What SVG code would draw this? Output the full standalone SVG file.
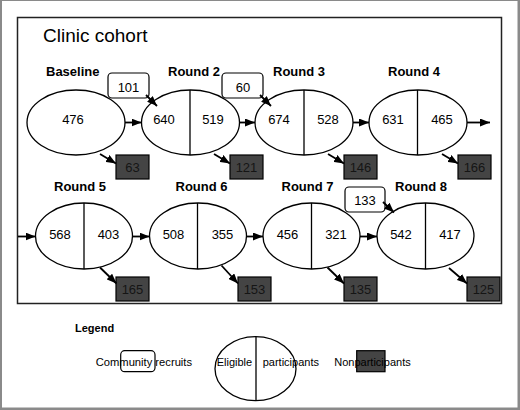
<svg xmlns="http://www.w3.org/2000/svg" width="520" height="410" viewBox="0 0 520 410">
<style>
text{font-family:"Liberation Sans",Arial,sans-serif;fill:#000}
.t{font-size:19px}
.lbl{font-size:13px;font-weight:bold}
.num{font-size:13px;text-anchor:middle}
.ell{fill:#fff;stroke:#000;stroke-width:1.3}
.div{stroke:#000;stroke-width:1.3}
.rec{fill:#fff;stroke:#000;stroke-width:1.2}
.np{fill:#444;stroke:#000;stroke-width:1.2}
.npt{font-size:13px;text-anchor:middle;fill:#151515}
.con line{stroke:#000;stroke-width:1.8;marker-end:url(#ah)}
.lg{font-size:11px}
</style>
<defs>
<marker id="ah" markerUnits="userSpaceOnUse" markerWidth="10" markerHeight="8" refX="10" refY="4" orient="auto">
<path d="M0,0 L10,4 L0,8 z" fill="#000"/>
</marker>
</defs>
<rect x="0" y="0" width="520" height="410" fill="#8a8a8a"/>
<rect x="2" y="1" width="515.5" height="406.5" fill="#fff"/>
<rect x="17.5" y="17.5" width="484" height="286" fill="none" stroke="#222" stroke-width="1.5"/>
<text class="t" x="43" y="42">Clinic cohort</text>

<g id="baseline">
<text class="lbl" x="46" y="76">Baseline</text>
<ellipse class="ell" cx="76" cy="122.5" rx="49" ry="32.5"/>
<text class="num" x="73" y="124">476</text>
</g>
<g id="round2">
<text class="lbl" x="168" y="76">Round 2</text>
<ellipse class="ell" cx="190.5" cy="122.5" rx="49" ry="32.5"/>
<line class="div" x1="190" y1="90" x2="190" y2="155"/>
<text class="num" x="164" y="124">640</text>
<text class="num" x="213" y="124">519</text>
</g>
<g id="round3">
<text class="lbl" x="273" y="76">Round 3</text>
<ellipse class="ell" cx="304" cy="122.5" rx="49" ry="32.5"/>
<line class="div" x1="304" y1="90" x2="304" y2="155"/>
<text class="num" x="279" y="124">674</text>
<text class="num" x="328" y="124">528</text>
</g>
<g id="round4">
<text class="lbl" x="388" y="76">Round 4</text>
<ellipse class="ell" cx="418" cy="122.5" rx="49" ry="32.5"/>
<line class="div" x1="417.5" y1="90" x2="417.5" y2="155"/>
<text class="num" x="393" y="124">631</text>
<text class="num" x="442" y="124">465</text>
</g>
<g id="round5">
<text class="lbl" x="54" y="190.5">Round 5</text>
<ellipse class="ell" cx="84" cy="236" rx="48.5" ry="33"/>
<line class="div" x1="84" y1="203" x2="84" y2="269"/>
<text class="num" x="60" y="238.5">568</text>
<text class="num" x="108.5" y="238.5">403</text>
</g>
<g id="round6">
<text class="lbl" x="175.5" y="190.5">Round 6</text>
<ellipse class="ell" cx="198" cy="236" rx="48.5" ry="33"/>
<line class="div" x1="197.5" y1="203" x2="197.5" y2="269"/>
<text class="num" x="173.5" y="238.5">508</text>
<text class="num" x="222.5" y="238.5">355</text>
</g>
<g id="round7">
<text class="lbl" x="281.5" y="190.5">Round 7</text>
<ellipse class="ell" cx="311.5" cy="236" rx="48.5" ry="33"/>
<line class="div" x1="311.5" y1="203" x2="311.5" y2="269"/>
<text class="num" x="287.5" y="238.5">456</text>
<text class="num" x="336" y="238.5">321</text>
</g>
<g id="round8">
<text class="lbl" x="395" y="190.5">Round 8</text>
<ellipse class="ell" cx="425.5" cy="236" rx="48.5" ry="33"/>
<line class="div" x1="425.5" y1="203" x2="425.5" y2="269"/>
<text class="num" x="401" y="238.5">542</text>
<text class="num" x="450" y="238.5">417</text>
</g>

<g id="recruits-r2"><rect class="rec" x="108" y="73" width="41" height="25" rx="4"/><text class="num" x="128.5" y="91.5">101</text></g>
<g id="recruits-r3"><rect class="rec" x="222" y="73" width="41" height="25" rx="4"/><text class="num" x="243" y="91.5">60</text></g>
<g id="recruits-r8"><rect class="rec" x="345" y="187" width="40" height="25" rx="4"/><text class="num" x="365" y="205">133</text></g>

<g id="np-baseline"><rect class="np" x="116" y="155" width="33" height="24"/><text class="npt" x="132.5" y="172">63</text></g>
<g id="np-r2"><rect class="np" x="230" y="155" width="33" height="24"/><text class="npt" x="246.5" y="172">121</text></g>
<g id="np-r3"><rect class="np" x="344" y="155" width="33" height="24"/><text class="npt" x="360.5" y="172">146</text></g>
<g id="np-r4"><rect class="np" x="458" y="155" width="33" height="24"/><text class="npt" x="474.5" y="172">166</text></g>
<g id="np-r5"><rect class="np" x="116" y="277" width="33" height="24"/><text class="npt" x="132.5" y="294">165</text></g>
<g id="np-r6"><rect class="np" x="238" y="277" width="33" height="24"/><text class="npt" x="254.5" y="294">153</text></g>
<g id="np-r7"><rect class="np" x="344" y="277" width="33" height="24"/><text class="npt" x="360.5" y="294">135</text></g>
<g id="np-r8"><rect class="np" x="467" y="277" width="33" height="24"/><text class="npt" x="483.5" y="294">125</text></g>

<g class="con" id="connectors">
<line x1="125" y1="122.5" x2="141.5" y2="122.5"/>
<line x1="239.5" y1="122.5" x2="255" y2="122.5"/>
<line x1="353" y1="122.5" x2="369" y2="122.5"/>
<line x1="467" y1="122.5" x2="490" y2="122.5"/>
<line x1="18" y1="236.5" x2="35.5" y2="236.5"/>
<line x1="132.5" y1="236.5" x2="149.5" y2="236.5"/>
<line x1="246.5" y1="236.5" x2="263" y2="236.5"/>
<line x1="360" y1="236.5" x2="377" y2="236.5"/>
<line x1="146" y1="95" x2="157" y2="106"/>
<line x1="260" y1="95" x2="271" y2="106"/>
<line x1="383" y1="202" x2="394" y2="212.5"/>
<line x1="100" y1="154" x2="116" y2="163.5"/>
<line x1="214" y1="154" x2="230" y2="163.5"/>
<line x1="328" y1="154" x2="344" y2="163.5"/>
<line x1="442" y1="154" x2="458" y2="163.5"/>
<line x1="100" y1="267.5" x2="116.5" y2="283.5"/>
<line x1="221.5" y1="265.5" x2="238" y2="283.5"/>
<line x1="327.5" y1="267.5" x2="344" y2="283.5"/>
<line x1="449" y1="268" x2="467" y2="283.5"/>
</g>

<g id="legend">
<text class="lg" x="75" y="332" font-weight="bold">Legend</text>
<rect class="rec" x="120.7" y="350.7" width="34.3" height="21" rx="4" fill="none" style="fill:none"/>
<text class="lg" x="95.7" y="366" style="font-size:11.2px">Community recruits</text>
<ellipse class="ell" cx="255.5" cy="368.7" rx="40.5" ry="32"/>
<line class="div" x1="256" y1="336.7" x2="256" y2="400.7"/>
<text class="lg" x="216.7" y="366">Eligible</text>
<text class="lg" x="262.7" y="366">participants</text>
<rect class="np" x="356.7" y="350.7" width="28.3" height="21"/>
<text class="lg" x="334.3" y="366">Nonparticipants</text>
</g>
</svg>
